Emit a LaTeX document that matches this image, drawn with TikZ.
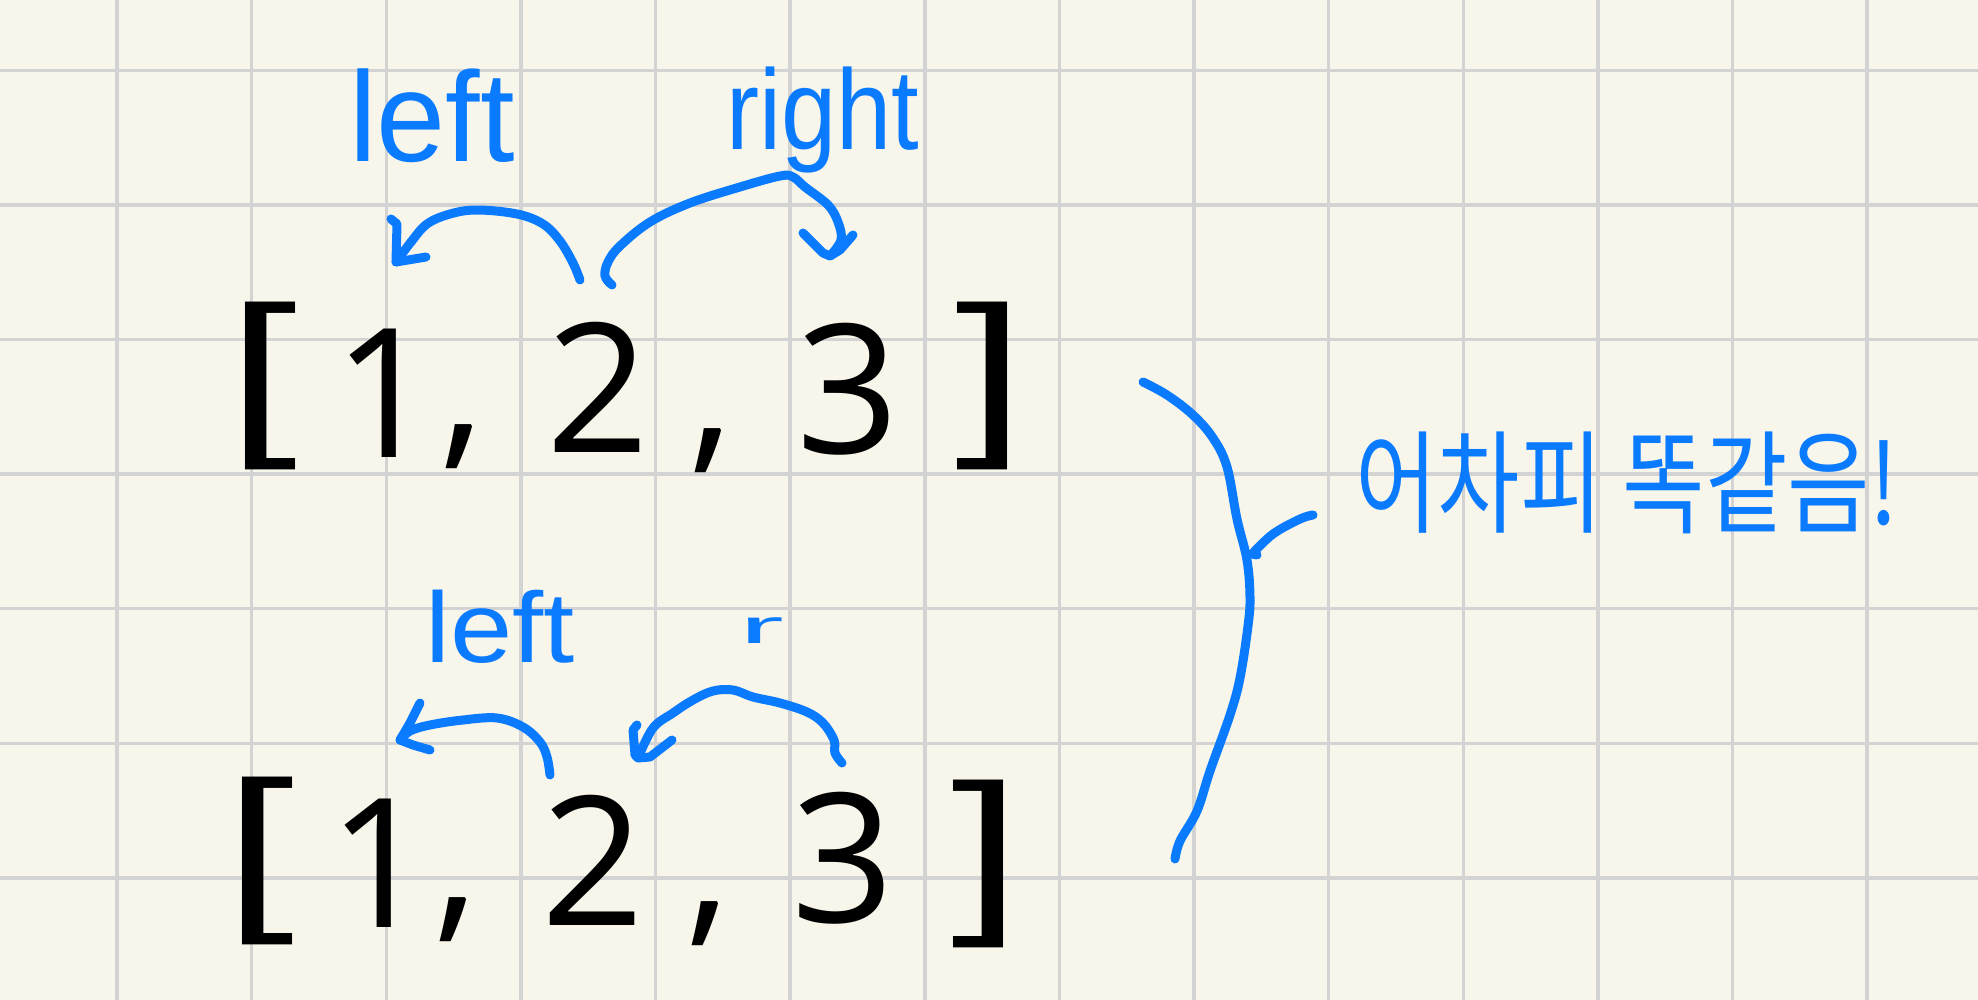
\documentclass[tikz,border=0pt]{standalone}
\usepackage{fontspec}
\usepackage{graphicx}
\setmainfont{Liberation Sans}
\newfontfamily\digfont{Open Sans}
\newfontfamily\kofont{Noto Sans CJK KR}
\definecolor{paper}{HTML}{F8F6EA}
\definecolor{gridc}{HTML}{D3D3D3}
\definecolor{ink}{HTML}{0A7BFF}
\begin{document}
\begin{tikzpicture}[x=0.5pt,y=-0.5pt,
  pen/.style={draw=ink,line width=4.5pt,line cap=round,line join=round},
  digit/.style={inner sep=0pt,anchor=base,font={\digfont\fontsize{90}{90}\selectfont}},
  brk/.style={inner sep=0pt,anchor=base,font=\fontsize{90}{90}\selectfont},
  lbl/.style={inner sep=0pt,anchor=base,text=ink},
]
\fill[paper] (0,0) rectangle (1978,1000);
\useasboundingbox (0,0) rectangle (1978,1000);
\foreach \k in {0,...,13} \draw[gridc,line width=1.75pt] ({117.1+134.62*\k},0) -- ({117.1+134.62*\k},1000);
\foreach \j in {0,...,6} \draw[gridc,line width=1.75pt] (0,{70.3+134.6*\j}) -- (1978,{70.3+134.6*\j});

% top row
\node[brk] (lb1) at (263,433) {\scalebox{1.4}[1]{[}};
\node[digit] (one1) at (385,458) {1};
\node[digit] (c1) at (463,445) {,};
\node[digit] (two1) at (598,452) {2};
\node[digit] (c2) at (712,450) {,};
\node[digit] (three1) at (848,453) {3};
\node[brk] (rb1) at (990,433) {\scalebox{1.4}[1]{]}};

% bottom row
\node[brk] (lb2) at (260,907) {\scalebox{1.4}[1]{[}};
\node[digit] (one2) at (380,927) {1};
\node[digit] (c3) at (457,918) {,};
\node[digit] (two2) at (593,925) {2};
\node[digit] (c4) at (709,922) {,};
\node[digit] (three2) at (843,922) {3};
\node[brk] (rb2) at (987,910) {\scalebox{1.4}[1]{]}};

% labels
\node[lbl,font=\fontsize{64}{64}\selectfont] (lt1) at (432,162) {\scalebox{0.97}[1]{left}};
\node[lbl,font=\fontsize{57}{57}\selectfont] (rt1) at (823,150) {\scalebox{0.87}[1]{right}};
\node[lbl,font=\fontsize{50}{50}\selectfont] (lt2) at (500,662) {\scalebox{1.12}[1]{left}};
\node[lbl,font=\fontsize{24}{24}\selectfont] (rt2) at (762,643) {\scalebox{2.8}[1]{r}};
\node[lbl,font={\kofont\fontsize{56}{56}\selectfont}] (note) at (1627,524) {\scalebox{0.8}[1]{어차피 똑같음!}};

% top-left arrow: 2 -> 1
\coordinate (a1s) at (580,280);
\coordinate (a1e) at (396,262);
\draw[pen] plot[smooth,tension=0.6] coordinates {(a1s) (573,263) (560,241) (543,224) (517,214) (477,210) (450,214) (427,224) (411,242) (a1e)};
\draw[pen] (391,219) -- (397,224) -- (a1e) -- (426,257);

% top-right arrow: 2 -> 3
\coordinate (a2s) at (612,285);
\coordinate (a2e) at (830,256);
\draw[pen] plot[smooth,tension=0.6] coordinates {(a2s) (605,276) (608,262) (620,246) (650,222) (690,203) (740,187) (780,176) (793,177) (805,187) (828,205) (838,222) (841,240) (a2e)};
\draw[pen] (803,233) -- (823,253) -- (a2e) -- (840,250) -- (853,235);

% bottom-left arrow: 2 -> 1
\coordinate (a3s) at (550,775);
\coordinate (a3e) at (400,740);
\draw[pen] plot[smooth,tension=0.6] coordinates {(a3s) (547,757) (540,742) (523,727) (497,718) (463,720) (430,725) (410,731) (a3e)};
\draw[pen] (420,703) -- (410,723) -- (a3e) -- (413,745) -- (430,750);

% bottom-right arrow: 3 -> 2
\coordinate (a4s) at (842,763);
\coordinate (a4e) at (638,758);
\draw[pen] plot[smooth,tension=0.6] coordinates {(a4s) (835,753) (834,740) (823,723) (807,712) (780,703) (753,697) (733,690) (713,691) (693,700) (673,713) (653,728) (a4e)};
\draw[pen] (637,725) -- (633,730) -- (635,755) -- (a4e) -- (650,757) -- (672,740);

% big grouping curve and branch to the note
\coordinate (bs) at (1143,382);
\coordinate (be) at (1175,859);
\coordinate (bj) at (1252,554);
\coordinate (bt) at (1313,515);
\draw[pen] plot[smooth,tension=0.6] coordinates {(bs) (1167,395) (1193,415) (1213,438) (1227,467) (1237,519) (1247,560) (1250,597) (1248,626) (1240,678) (1230,715) (1210,771) (1197,811) (1180,841) (be)};
\draw[pen] plot[smooth,tension=0.6] coordinates {(bj) (1273,534) (1300,519) (bt)};
\draw[pen] (bj) -- (1257,555);
\end{tikzpicture}
\end{document}
